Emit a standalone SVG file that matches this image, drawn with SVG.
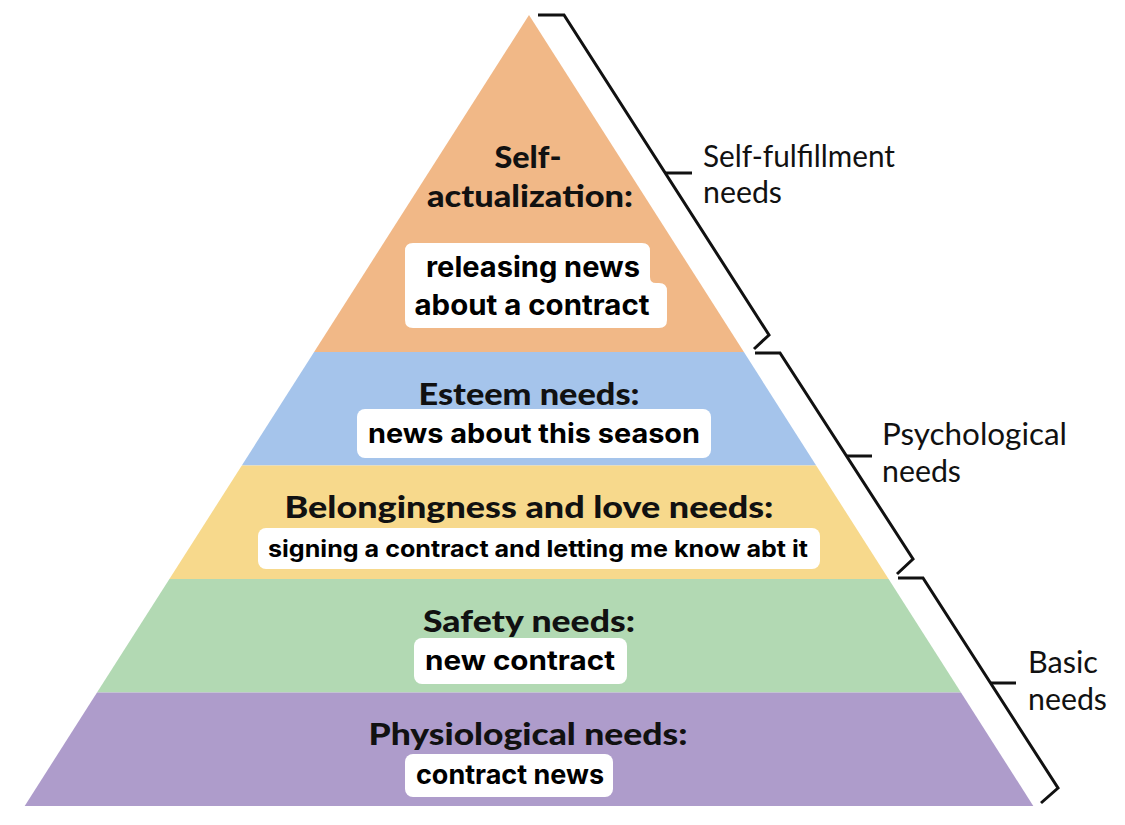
<svg xmlns="http://www.w3.org/2000/svg" width="1125" height="825" viewBox="0 0 1125 825">
  <style>
    .h { font-family: Lato, "Liberation Sans", sans-serif; font-weight: 900; font-size: 30px; fill: #111; text-anchor: middle; }
    .c { font-family: Inter, Roboto, "Liberation Sans", sans-serif; font-weight: 700; fill: #000; text-anchor: middle; }
    .s { font-family: Lato, "Liberation Sans", sans-serif; font-weight: 400; font-size: 30px; fill: #111; }
    .box { fill: #fff; }
    .br { fill: none; stroke: #111; stroke-width: 3; stroke-linejoin: miter; }
  </style>
  <rect width="1125" height="825" fill="#fff"/>

  <g id="tier-self-actualization">
    <polygon points="529,15 743.9,352 314.1,352" fill="#F1B887"/>
    <text class="h" x="528" y="168" textLength="67" lengthAdjust="spacingAndGlyphs">Self-</text>
    <text class="h" x="530" y="207" textLength="206" lengthAdjust="spacingAndGlyphs">actualization:</text>
    <path class="box" d="M413,243 H642 Q650,243 650,251 V277 Q650,283 656,283 H659 Q667,283 667,291 V320 Q667,328 659,328 H413 Q405,328 405,320 V251 Q405,243 413,243 Z"/>
    <text class="c" x="533" y="277" font-size="28" textLength="214" lengthAdjust="spacingAndGlyphs">releasing news</text>
    <text class="c" x="532" y="315" font-size="28" textLength="235" lengthAdjust="spacingAndGlyphs">about a contract</text>
  </g>

  <g id="tier-esteem">
    <polygon points="314.1,352 743.9,352 816.2,465.5 241.8,465.5" fill="#A5C4EB"/>
    <text class="h" x="529" y="405" textLength="221" lengthAdjust="spacingAndGlyphs">Esteem needs:</text>
    <rect class="box" x="357" y="409" width="354" height="49" rx="8"/>
    <text class="c" x="534" y="443" font-size="27" textLength="332" lengthAdjust="spacingAndGlyphs">news about this season</text>
  </g>

  <g id="tier-belonging">
    <polygon points="241.8,465.5 816.2,465.5 888.6,579 169.4,579" fill="#F7D98C"/>
    <text class="h" x="529" y="518" textLength="489" lengthAdjust="spacingAndGlyphs">Belongingness and love needs:</text>
    <rect class="box" x="258" y="528" width="562" height="41" rx="8"/>
    <text class="c" x="538" y="557" font-size="23" textLength="540" lengthAdjust="spacingAndGlyphs">signing a contract and letting me know abt it</text>
  </g>

  <g id="tier-safety">
    <polygon points="169.4,579 888.6,579 961,692.5 97,692.5" fill="#B2D9B3"/>
    <text class="h" x="529" y="632" textLength="212" lengthAdjust="spacingAndGlyphs">Safety needs:</text>
    <rect class="box" x="414" y="638" width="213" height="46" rx="8"/>
    <text class="c" x="520" y="670" font-size="27" textLength="190" lengthAdjust="spacingAndGlyphs">new contract</text>
  </g>

  <g id="tier-physiological">
    <polygon points="97,692.5 961,692.5 1033.3,806 24.7,806" fill="#AE9CCB"/>
    <text class="h" x="528" y="745" textLength="319" lengthAdjust="spacingAndGlyphs">Physiological needs:</text>
    <rect class="box" x="405" y="754" width="208" height="43" rx="8"/>
    <text class="c" x="510" y="784" font-size="27" textLength="188" lengthAdjust="spacingAndGlyphs">contract news</text>
  </g>

  <g id="connectors">
    <polyline class="br" points="538,15 564,15 769,335 754,349"/>
    <line class="br" x1="665" y1="173" x2="692" y2="173"/>
    <polyline class="br" points="755,353 780,353 913,559 897,574"/>
    <line class="br" x1="846" y1="456" x2="872" y2="456"/>
    <polyline class="br" points="898,578 923,578 1058,788 1041,803"/>
    <line class="br" x1="990" y1="683" x2="1016" y2="683"/>
  </g>

  <g id="label-self-fulfillment">
    <text class="s" x="703" y="167" textLength="192" lengthAdjust="spacingAndGlyphs">Self-fulfillment</text>
    <text class="s" x="703" y="203" textLength="79" lengthAdjust="spacingAndGlyphs">needs</text>
  </g>
  <g id="label-psychological">
    <text class="s" x="882" y="445" textLength="185" lengthAdjust="spacingAndGlyphs">Psychological</text>
    <text class="s" x="882" y="482" textLength="79" lengthAdjust="spacingAndGlyphs">needs</text>
  </g>
  <g id="label-basic">
    <text class="s" x="1028" y="673" textLength="70" lengthAdjust="spacingAndGlyphs">Basic</text>
    <text class="s" x="1028" y="710" textLength="79" lengthAdjust="spacingAndGlyphs">needs</text>
  </g>
</svg>
